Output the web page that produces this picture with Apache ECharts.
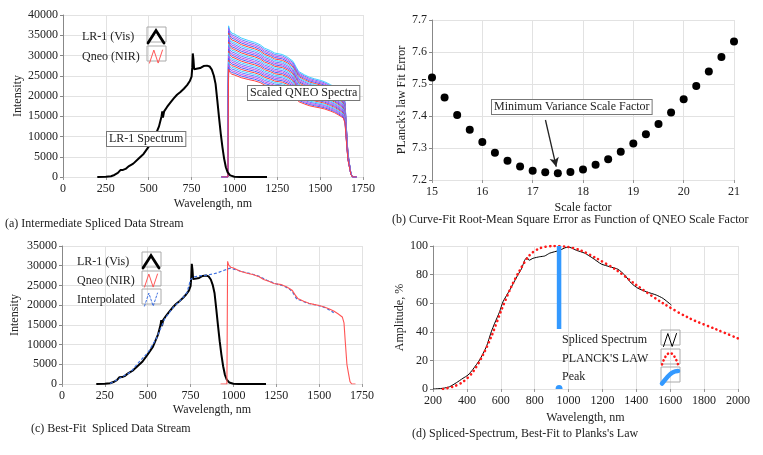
<!DOCTYPE html>
<html>
<head>
<meta charset="utf-8">
<script src="https://cdn.jsdelivr.net/npm/echarts@6/dist/echarts.min.js"></script>
<style>
  html, body { margin: 0; padding: 0; background: #fff; }
  #chart { width: 763px; height: 455px; }
</style>
</head>
<body>
<div id="chart"></div>
<script>
// LR-1 visible spectrum [wavelength nm, counts]
const lr1Vis = [[200,0],[250,50],[280,200],[300,500],[320,1000],[335,1700],[350,1750],[365,2000],[385,2700],[410,3300],[440,4500],[470,5700],[500,7500],[530,9400],[560,12500],[575,15000],[579,16200],[583,14700],[590,16200],[607,17300],[625,18300],[646,19400],[665,20300],[685,21000],[705,21800],[724,22700],[740,23700],[750,24800],[754,27000],[757,30500],[761,29000],[765,26600],[775,26200],[800,26900],[820,27400],[840,27500],[855,27300],[868,26500],[880,25000],[890,23000],[900,19000],[910,14800],[920,10800],[930,7400],[940,4500],[950,2400],[960,1200],[975,400],[1000,80],[1030,0],[1190,0]];

// Qneo NIR spectrum at the best-fit scale
const qneoNir = [[925,0],[962,0],[966,31100],[972,30200],[985,29600],[1000,29400],[1040,28600],[1080,28100],[1118,27700],[1150,27200],[1176,26500],[1210,26000],[1235,25500],[1280,25200],[1312,24600],[1342,23800],[1360,22600],[1375,21700],[1410,21000],[1440,20500],[1468,20200],[1500,19900],[1526,19600],[1560,19000],[1585,18500],[1610,17800],[1635,17000],[1645,15500],[1652,11000],[1662,5000],[1672,2500],[1680,600],[1690,0],[1712,0]];

const interpolated = [[280,150],[300,500],[350,1800],[400,3000],[450,5600],[500,7900],[550,11500],[600,16600],[650,19500],[700,21600],[730,23300],[750,26500],[768,27150],[800,27400],[846,27600],[900,28100],[950,28900],[982,29400],[1021,28900],[1060,28400],[1099,28000],[1150,27300],[1196,26300],[1250,25400],[1293,24900],[1330,24000],[1351,22900],[1370,21500],[1390,21250],[1430,20500],[1487,20000],[1540,19300],[1585,18100]];

// QNEO scale factors tried and the Planck fit error for each
const scaleFactors = [15,15.25,15.5,15.75,16,16.25,16.5,16.75,17,17.25,17.5,17.75,18,18.25,18.5,18.75,19,19.25,19.5,19.75,20,20.25,20.5,20.75,21];
const fitError = [7.520,7.458,7.403,7.357,7.319,7.285,7.260,7.242,7.229,7.224,7.221,7.225,7.233,7.248,7.265,7.288,7.314,7.343,7.375,7.411,7.452,7.494,7.539,7.584,7.633];
const bestScale = 17.5;

// normalised spliced spectrum and the Planck curve, %
const splicedSpectrum = [[200,0],[259,0.5],[298,1.6],[338,4.4],[377,7.5],[407,9.8],[436,13.8],[475,20.3],[515,29.6],[544,40],[564,46],[593,54],[613,61],[652,69],[702,80],[722,84],[741,90],[755,92],[767,90],[790,91.4],[830,92.5],[859,93],[889,95],[948,97],[987,99],[1007,99],[1046,97],[1095,95],[1144,91.4],[1193,87.4],[1243,85.5],[1292,83.7],[1331,79.7],[1371,73.9],[1410,70.4],[1459,68],[1518,65.7],[1557,63.4],[1607,58.7]];
const planckLaw = [[259,0],[318,1.6],[377,5],[436,12],[495,23.8],[544,36.6],[603,55],[662,71.5],[712,83],[771,93.7],[830,98.4],[908,100],[987,99.5],[1066,97.2],[1164,91.4],[1282,83.2],[1400,72.7],[1557,60],[1715,49.4],[1872,41.7],[2000,35.4]];
const peakWavelength = 944;
const peakBar = [100, 42];

const FONT = 'Liberation Serif';
const TXT = '#222';
const bandColors = ['#ff4040', '#4a62ff', '#c64fe0', '#6a7cff', '#3ed2ff'];
const plain = function (v) { return String(v); };

function xAx(grid, min, max, interval, name, gap) {
  return {
    gridIndex: grid, type: 'value', min: min, max: max, interval: interval,
    name: name, nameLocation: 'middle', nameGap: gap,
    nameTextStyle: { fontFamily: FONT, fontSize: 12, color: TXT },
    axisLine: { show: false },
    axisTick: { show: true, length: 3, lineStyle: { color: '#999' } },
    axisLabel: { fontFamily: FONT, fontSize: 12, color: TXT, margin: 6, formatter: plain },
    splitLine: { show: true, lineStyle: { color: '#e2e2e2' } }
  };
}
function yAx(grid, min, max, interval, name, gap, fmt) {
  return {
    gridIndex: grid, type: 'value', min: min, max: max, interval: interval,
    name: name, nameLocation: 'middle', nameGap: gap,
    nameTextStyle: { fontFamily: FONT, fontSize: 12, color: TXT },
    axisLine: { show: true, lineStyle: { color: '#888' } },
    axisTick: { show: true, length: 3, lineStyle: { color: '#888' } },
    axisLabel: { fontFamily: FONT, fontSize: 12, color: TXT, margin: 5, formatter: fmt || plain },
    splitLine: { show: true, lineStyle: { color: '#e2e2e2' } }
  };
}
function line(name, axis, data, color, width, extra) {
  return Object.assign({
    name: name, type: 'line', xAxisIndex: axis, yAxisIndex: axis, data: data,
    symbol: 'none', showSymbol: false, lineStyle: { color: color, width: width },
    itemStyle: { color: color }, silent: true
  }, extra || {});
}
function cap(text, left, top) {
  return { text: text, left: left, top: top, padding: 0,
    textStyle: { fontFamily: FONT, fontSize: 12, fontWeight: 'normal', color: TXT } };
}
function leg(left, top, gap, textW, items) {
  return {
    orient: 'vertical', left: left, top: top, align: 'right', itemGap: gap,
    itemWidth: 16, itemHeight: 13, selectedMode: false, padding: 0,
    formatter: '{t|{name}}',
    textStyle: { fontFamily: FONT, fontSize: 12, color: TXT,
      rich: { t: { width: textW, align: 'left', fontFamily: FONT, fontSize: 12, color: TXT } } },
    data: items
  };
}
const ZIG = 'path://M0,12 L4,0 L8,12 L12,0';
function legItem(name, icon, color, width, type) {
  return { name: name, icon: icon,
    itemStyle: { color: 'none', borderColor: color, borderWidth: width, borderType: type || 'solid', borderCap: 'round' } };
}
// thin frames drawn round the legend samples
function frame(x, y) {
  return { type: 'rect', z: 1, silent: true, shape: { x: x, y: y, width: 19, height: 15 },
    style: { fill: 'none', stroke: '#aaa', lineWidth: 1 } };
}
function label(text, x, y) {
  return { type: 'text', left: x, top: y, z: 100, silent: true,
    style: { text: text, font: '12px "Liberation Serif"', fill: TXT,
      backgroundColor: '#fff', borderColor: '#777', borderWidth: 1, padding: [1, 2, 1, 2] } };
}

const series = [];
// (a) scaled QNEO spectra band, one curve per scale factor (largest drawn first)
scaleFactors.slice().reverse().forEach(function (s) {
  const i = scaleFactors.indexOf(s);
  series.push(line('Qneo (NIR)', 0, qneoNir.map(function (p) { return [p[0], p[1] * s / bestScale]; }),
    bandColors[i % bandColors.length], 1));
});
series.push(line('LR-1 (Vis)', 0, lr1Vis, '#000', 2));
// (b) fit error
series.push({
  name: 'Fit Error', type: 'scatter', xAxisIndex: 1, yAxisIndex: 1, silent: true,
  data: scaleFactors.map(function (s, i) { return [s, fitError[i]]; }),
  symbolSize: 8, itemStyle: { color: '#000', opacity: 1 }, clip: false,
  markLine: {
    silent: true, symbol: ['none', 'arrow'], symbolSize: [7, 9],
    lineStyle: { color: '#222', width: 1.3, type: 'solid' }, label: { show: false },
    data: [[{ coord: [17.254, 7.3875] }, { coord: [17.468, 7.2416] }]]
  }
});
// (c) best-fit splice
series.push(line('LR-1 (Vis)', 2, lr1Vis, '#000', 2));
series.push(line('Interpolated', 2, interpolated, '#3d6fe0', 1.2, { lineStyle: { color: '#3d6fe0', width: 1.2, type: [3, 2] } }));
series.push(line('Qneo (NIR)', 2, qneoNir, '#ff5555', 1.1));
// (d) Planck fit
series.push(line('Spliced Spectrum', 3, splicedSpectrum, '#000', 1, { smooth: 0.2 }));
series.push(line("PLANCK'S LAW", 3, planckLaw, '#ff1a1a', 2.6,
  { smooth: 0.3, lineStyle: { color: '#ff1a1a', width: 2.6, type: [0.1, 4.5], cap: 'round' } }));
series.push(line('Peak', 3, peakBar.map(function (v) { return [peakWavelength, v]; }), '#3399ff', 4.5));
series.push({
  name: 'Peak', type: 'scatter', xAxisIndex: 3, yAxisIndex: 3, silent: true, clip: false,
  data: [[peakWavelength, 0]], symbol: 'path://M0,5 A5,5 0 0 1 10,5 Z', symbolSize: [7, 4],
  symbolOffset: [0, -2], itemStyle: { color: '#3399ff', opacity: 1 }
});

const option = {
  animation: false,
  backgroundColor: '#fff',
  textStyle: { fontFamily: FONT },
  title: [
    cap('(a) Intermediate Spliced Data Stream', 5, 218),
    cap('(b) Curve-Fit Root-Mean Square Error as Function of QNEO Scale Factor', 392, 214),
    cap('(c) Best-Fit  Spliced Data Stream', 31, 423),
    cap("(d) Spliced-Spectrum, Best-Fit to Planks's Law", 412, 428)
  ],
  grid: [
    { left: 63, top: 15, width: 300, height: 162 },
    { left: 432, top: 20, width: 302, height: 160 },
    { left: 62, top: 246, width: 300, height: 138 },
    { left: 433, top: 246, width: 305, height: 143 }
  ],
  xAxis: [
    xAx(0, 0, 1750, 250, 'Wavelength, nm', 21),
    xAx(1, 15, 21, 1, 'Scale factor', 22),
    xAx(2, 0, 1750, 250, 'Wavelength, nm', 20),
    xAx(3, 200, 2000, 200, 'Wavelength, nm', 23)
  ],
  yAxis: [
    yAx(0, 0, 40000, 5000, 'Intensity', 39),
    yAx(1, 7.2, 7.7, 0.1, "PLanck's law Fit Error", 23, function (v) { return v.toFixed(1); }),
    yAx(2, 0, 35000, 5000, 'Intensity', 41),
    yAx(3, 0, 100, 20, 'Amplitude, %', 26)
  ],
  legend: [
    leg(82, 28, 2, 61, [
      legItem('LR-1 (Vis)', 'path://M0,12 L7,1 L14,12', '#000', 2.8),
      legItem('Qneo (NIR)', ZIG, '#ff5555', 1)
    ]),
    leg(77, 253, 1, 61, [
      legItem('LR-1 (Vis)', 'path://M0,12 L7,1 L14,12', '#000', 2.8),
      legItem('Qneo (NIR)', ZIG, '#ff5555', 1),
      legItem('Interpolated', ZIG, '#3d6fe0', 1, [2, 2])
    ]),
    leg(562, 331, 1.5, 95, [
      legItem('Spliced Spectrum', ZIG, '#000', 1),
      legItem("PLANCK'S LAW", 'path://M0,12 Q7,-8 14,12', '#ff1a1a', 2.6, [0.1, 4]),
      legItem('Peak', 'path://M0,12 L5,6 Q9,1 14,1', '#3399ff', 4.5)
    ])
  ],
  graphic: [
    frame(147, 27), frame(147, 46),
    frame(142, 252), frame(142, 271), frame(142, 289),
    frame(661, 330), frame(661, 349), frame(661, 367),
    label('LR-1 Spectrum', 106, 131),
    label('Scaled QNEO Spectra', 247, 85),
    label('Minimum Variance Scale Factor', 491, 99)
  ],
  series: series
};

const chart = echarts.init(document.getElementById('chart'));
chart.setOption(option);
</script>
</body>
</html>
